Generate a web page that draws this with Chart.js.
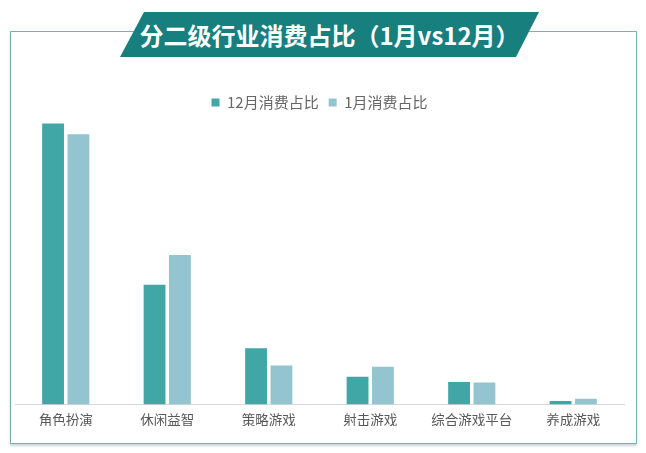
<!DOCTYPE html>
<html>
<head>
<meta charset="utf-8">
<script src="https://cdn.jsdelivr.net/npm/chart.js@4/dist/chart.umd.min.js"></script>
<style>
  html, body { margin: 0; padding: 0; background: #fff; }
  body { width: 646px; height: 453px; position: relative; overflow: hidden;
         font-family: "Noto Sans CJK SC", "Noto Sans", sans-serif; }
  #frame { position: absolute; left: 10px; top: 31px; width: 625px; height: 411px;
           border: 1.5px solid #73b6b1; box-shadow: 0 2px 2px rgba(90,150,150,0.35); }
  #banner { position: absolute; left: 120px; top: 12px; width: 419px; height: 45px;
            background: #177f7e;
            clip-path: polygon(24px 0, 100% 0, calc(100% - 23px) 100%, 0 100%); }
  #title { position: absolute; left: 120px; top: 12px; width: 419px; height: 45px;
           line-height: 45px; text-align: center; color: #fff; font-weight: bold;
           font-size: 24px; }
  #wrap { position: absolute; left: 15px; top: 84.5px; width: 621px; height: 341.7px; }
</style>
</head>
<body>
<div id="frame"></div>
<div id="banner"></div>
<div id="title">分二级行业消费占比（1月vs12月）</div>
<div id="wrap"><canvas id="chart"></canvas></div>
<script>
// chart data (share of spending, %)
const categories = ["角色扮演", "休闲益智", "策略游戏", "射击游戏", "综合游戏平台", "养成游戏"];
const seriesNames = ["12月消费占比", "1月消费占比"];
const decShare = [54.9, 23.4, 11.0, 5.4, 4.4, 0.7];
const janShare = [52.8, 29.2, 7.6, 7.4, 4.3, 1.1];

const ctx = document.getElementById('chart').getContext('2d');
const chart = new Chart(ctx, {
    type: 'bar',
    data: {
        labels: categories,
        datasets: [
            { label: seriesNames[0], data: decShare, backgroundColor: '#41a6a6' },
            { label: seriesNames[1], data: janShare, backgroundColor: '#94c4cf' }
        ]
    },
    options: {
        responsive: true,
        maintainAspectRatio: false,
        animation: false,
        layout: { padding: { left: 0, right: 12, top: 0, bottom: 0 } },
        datasets: { bar: { categoryPercentage: 0.5, barPercentage: 0.86 } },
        plugins: {
            legend: {
                position: 'top',
                labels: {
                    color: '#666666',
                    font: { family: '"Noto Sans CJK SC", sans-serif', size: 15 },
                    boxWidth: 8, boxHeight: 8, padding: 10
                }
            },
            tooltip: { enabled: false }
        },
        scales: {
            x: {
                grid: { display: false },
                border: { display: true, color: '#d9d9d9', width: 1 },
                ticks: {
                    color: '#595959', padding: -1,
                    font: { family: '"Noto Sans CJK SC", sans-serif', size: 13.5 }
                }
            },
            y: { display: false, min: 0, max: 55.6 }
        }
    }
});
</script>
</body>
</html>
